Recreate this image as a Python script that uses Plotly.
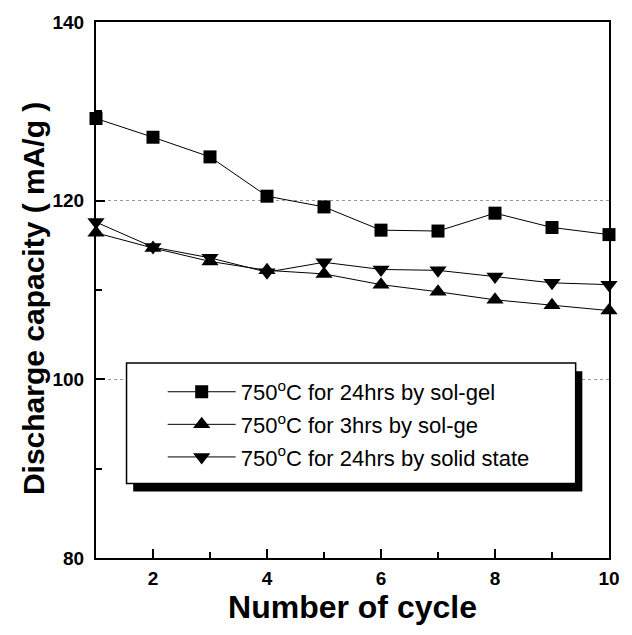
import plotly.graph_objects as go

# Cycle numbers and discharge capacities (mA/g)
cycles = [1, 2, 3, 4, 5, 6, 7, 8, 9, 10]
solgel_24h = [129.2, 127.1, 124.9, 120.5, 119.3, 116.7, 116.6, 118.6, 117.0, 116.2]
solgel_3h = [116.4, 114.7, 113.2, 112.2, 111.8, 110.6, 109.8, 108.9, 108.3, 107.7]
solid_24h = [117.6, 114.8, 113.6, 112.0, 113.1, 112.3, 112.2, 111.5, 110.8, 110.6]

names = [
    "750<sup>o</sup>C for 24hrs by sol-gel",
    "750<sup>o</sup>C for 3hrs by sol-ge",
    "750<sup>o</sup>C for 24hrs by solid state",
]
symbols = ["square", "triangle-up", "triangle-down"]
series = [solgel_24h, solgel_3h, solid_24h]

FONT = "Liberation Sans, Arial, sans-serif"

fig = go.Figure()
for i, (name, sym, vals) in enumerate(zip(names, symbols, series)):
    fig.add_trace(go.Scatter(
        x=cycles, y=vals, name=name, mode="lines+markers",
        line=dict(color="black", width=1),
        marker=dict(symbol=sym, size=15 if sym != "square" else 13, color="black"),
        legendgroup=f"g{i}", cliponaxis=False,
    ))

# Legend frame with a drop shadow
lx0, lx1, ly0, ly1 = 0.0595, 0.935, 0.139, 0.3636
fig.add_shape(type="rect", xref="paper", yref="paper",
              x0=lx0 + 0.013, x1=lx1 + 0.013, y0=ly0 - 0.015, y1=ly1 - 0.015,
              fillcolor="black", line=dict(width=0), layer="above")
fig.add_shape(type="rect", xref="paper", yref="paper",
              x0=lx0, x1=lx1, y0=ly0, y1=ly1,
              fillcolor="white", line=dict(color="black", width=1.5), layer="above")

# Vertical axis title
fig.add_annotation(
    text="Discharge capacity ( mA/g )", textangle=-90,
    xref="paper", yref="paper", x=-0.1228, y=0.483,
    xanchor="center", yanchor="middle", showarrow=False,
    font=dict(family=FONT, size=30, color="black", weight="bold"),
)

axis_common = dict(
    showline=True, linecolor="black", linewidth=2, mirror=True,
    ticks="inside", ticklen=9, tickwidth=2, tickcolor="black",
    tickfont=dict(family=FONT, size=19, color="black", weight="bold"),
    zeroline=False,
)

fig.update_xaxes(
    range=[1, 10], tickmode="array", tickvals=[2, 4, 6, 8, 10],
    showgrid=False, ticklabelstandoff=2,
    minor=dict(ticks="inside", ticklen=6, tickwidth=1.5, tickcolor="black",
               tickvals=[3, 5, 7, 9], showgrid=False),
    title=dict(text="Number of cycle", standoff=5,
               font=dict(family=FONT, size=32, color="black", weight="bold")),
    **axis_common,
)
fig.update_yaxes(
    range=[80, 140], tickmode="array", tickvals=[80, 100, 120, 140],
    showgrid=True, gridcolor="#999999", gridwidth=1, griddash="dot",
    ticklabelstandoff=6,
    minor=dict(ticks="inside", ticklen=6, tickwidth=1.5, tickcolor="black",
               tickvals=[90, 110, 130], showgrid=False),
    **axis_common,
)

fig.update_layout(
    width=632, height=635,
    margin=dict(l=96, r=15, t=19, b=77),
    plot_bgcolor="white", paper_bgcolor="white",
    showlegend=True,
    legend=dict(
        x=0.13, y=0.349, xanchor="left", yanchor="top",
        bgcolor="rgba(0,0,0,0)", borderwidth=0,
        font=dict(family=FONT, size=22, color="black"),
        itemwidth=68, tracegroupgap=1,
    ),
)

fig.write_html("out.html")
